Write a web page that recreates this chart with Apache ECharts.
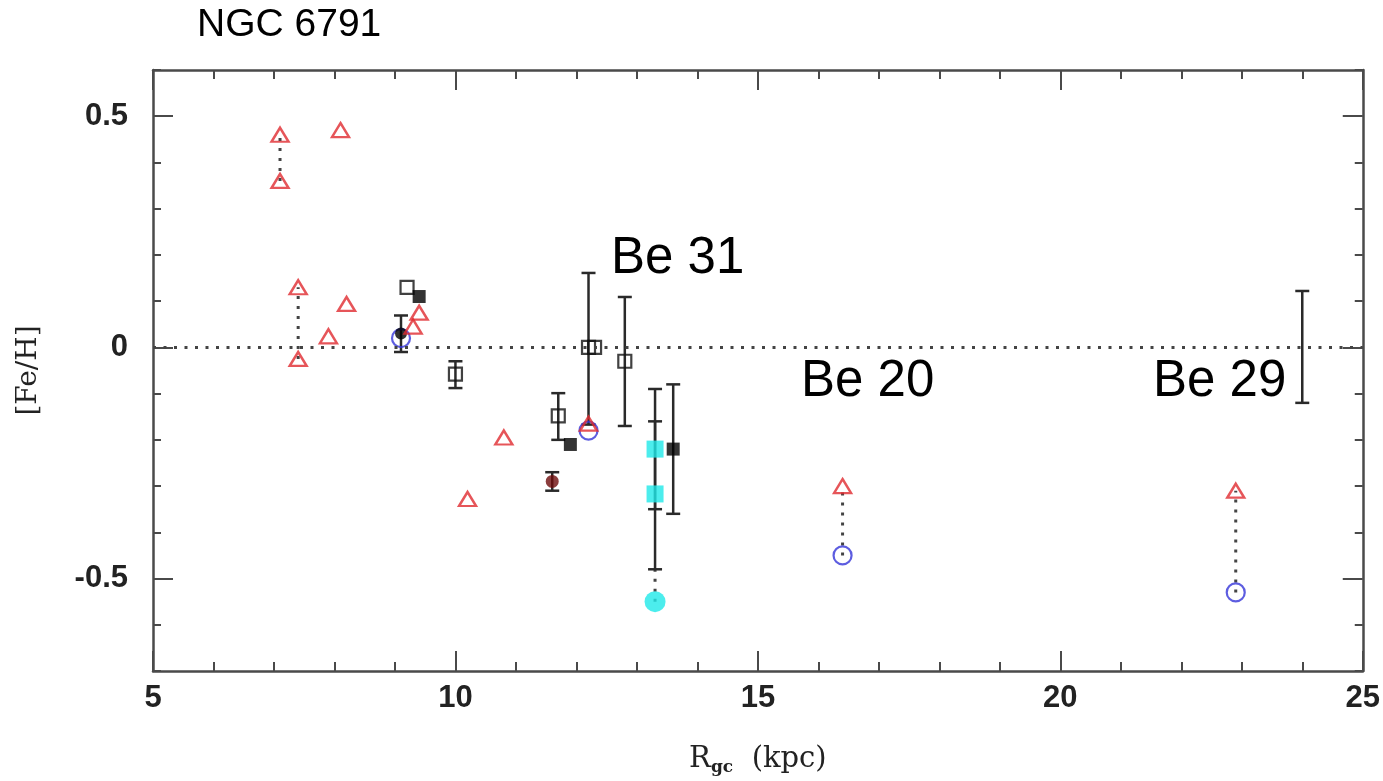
<!DOCTYPE html>
<html>
<head>
<meta charset="utf-8">
<title>NGC 6791 [Fe/H] vs Rgc</title>
<script src="https://cdn.jsdelivr.net/npm/echarts@6.0.0/dist/echarts.min.js"></script>
<style>
  html, body { margin: 0; padding: 0; background: #fff; }
  #chart { width: 1383px; height: 781px; }
</style>
</head>
<body>
<div id="chart"></div>
<script>
  // 数据：从图上读出来的 [Rgc, Fe/H]
  const triangleX = [7.1, 7.1, 8.1, 7.4, 7.4, 7.9, 8.2, 9.3, 9.4, 10.8, 10.2, 12.2, 16.4, 22.9];
  const triangleY = [0.46, 0.36, 0.47, 0.13, -0.025, 0.024, 0.094, 0.045, 0.075, -0.195, -0.328, -0.165, -0.30, -0.31];

  const circleX = [9.1, 12.2, 16.4, 22.9];
  const circleY = [0.02, -0.18, -0.45, -0.53];

  const openSquareX = [9.2, 10.0, 11.7, 12.2, 12.3, 12.8];
  const openSquareY = [0.13, -0.058, -0.148, 0.0, 0.0, -0.03];

  const filledSquareX = [9.4, 11.9, 13.6];
  const filledSquareY = [0.11, -0.21, -0.22];

  const cyanSquareX = [13.3, 13.3];
  const cyanSquareY = [-0.22, -0.317];
  const cyanCircleX = [13.3];
  const cyanCircleY = [-0.55];

  const blackDotX = [9.1];
  const blackDotY = [0.03];
  const darkRedX = [11.6];
  const darkRedY = [-0.29];

  // 误差棒 [x, low, high]
  const errX = [9.1, 10.0, 11.6, 11.7, 12.2, 12.8, 13.3, 13.3, 13.6, 24.0];
  const errLow = [-0.01, -0.088, -0.31, -0.20, -0.167, -0.17, -0.35, -0.48, -0.36, -0.12];
  const errHigh = [0.069, -0.03, -0.27, -0.099, 0.161, 0.109, -0.09, -0.16, -0.08, 0.122];

  // 虚线连接 [x, y1, y2]
  const linkX = [7.1, 7.4, 13.3, 16.4, 22.9];
  const linkLow = [0.36, -0.025, -0.55, -0.45, -0.53];
  const linkHigh = [0.46, 0.13, -0.48, -0.30, -0.31];

  // 刻度
  const xMin = 5, xMax = 25;
  const yMin = -0.7, yMax = 0.6;
  const yLabelValues = [-0.5, 0, 0.5];

  const zip = (xs, ys) => xs.map((x, i) => [x, ys[i]]);
  const zip3 = (xs, a, b) => xs.map((x, i) => [x, a[i], b[i]]);

  const axisColor = '#4a4a4a';
  const labelFont = 'Liberation Sans, Arial, sans-serif';

  function renderErr(params, api) {
    const x = api.value(0);
    const p1 = api.coord([x, api.value(1)]);
    const p2 = api.coord([x, api.value(2)]);
    const w = 7;
    const st = { stroke: '#2a2a2a', lineWidth: 2.5 };
    return {
      type: 'group',
      children: [
        { type: 'line', shape: { x1: p1[0], y1: p1[1], x2: p2[0], y2: p2[1] }, style: st },
        { type: 'line', shape: { x1: p1[0] - w, y1: p1[1], x2: p1[0] + w, y2: p1[1] }, style: st },
        { type: 'line', shape: { x1: p2[0] - w, y1: p2[1], x2: p2[0] + w, y2: p2[1] }, style: st }
      ]
    };
  }

  function renderLink(params, api) {
    const x = api.value(0);
    const p1 = api.coord([x, api.value(1)]);
    const p2 = api.coord([x, api.value(2)]);
    return {
      type: 'line',
      shape: { x1: p1[0], y1: p1[1], x2: p2[0], y2: p2[1] },
      style: { stroke: '#444', lineWidth: 3, lineDash: [3, 7] }
    };
  }

  function xAxisCfg(pos, showLabel) {
    return {
      type: 'value', position: pos, min: xMin, max: xMax, interval: 5,
      axisLine: { show: true, onZero: false, lineStyle: { color: axisColor, width: 2.5 } },
      axisTick: { inside: true, length: 20, lineStyle: { color: axisColor, width: 2 } },
      minorTick: { show: true, splitNumber: 5, length: 9, lineStyle: { color: axisColor, width: 2 } },
      axisLabel: {
        show: showLabel, margin: 12, fontSize: 31, color: '#222', fontWeight: 'bold',
        fontFamily: labelFont
      },
      splitLine: { show: false }
    };
  }

  function yMinorCfg(pos, showLabel) {
    return {
      type: 'value', position: pos, min: yMin, max: yMax, interval: 0.1, offset: 0,
      axisLine: { show: true, onZero: false, lineStyle: { color: axisColor, width: 2.5 } },
      axisTick: { inside: true, length: 8, lineStyle: { color: axisColor, width: 2 } },
      axisLabel: {
        show: showLabel, customValues: yLabelValues, margin: 25, fontSize: 31, color: '#222',
        fontWeight: 'bold', fontFamily: labelFont
      },
      splitLine: { show: false }
    };
  }

  function yMajorCfg(pos) {
    return {
      type: 'value', position: pos, min: yMin, max: yMax, offset: 0,
      axisLine: { show: false, onZero: false },
      axisTick: { inside: true, length: 20, customValues: yLabelValues, lineStyle: { color: axisColor, width: 2 } },
      axisLabel: { show: false },
      splitLine: { show: false }
    };
  }

  const bottomX = xAxisCfg('bottom', true);
  bottomX.name = '{r|R}{s|gc}  (kpc)';
  bottomX.nameLocation = 'middle';
  bottomX.nameGap = 72;
  bottomX.nameTextStyle = {
    fontFamily: 'DejaVu Serif, serif', fontSize: 29, color: '#222',
    rich: {
      r: { fontFamily: 'DejaVu Serif, serif', fontSize: 29, color: '#222' },
      s: { fontFamily: 'DejaVu Serif, serif', fontSize: 17, fontWeight: 'bold', color: '#222', padding: [16, 0, 0, 0] }
    }
  };

  const leftY = yMinorCfg('left', true);
  leftY.name = '[Fe/H]';
  leftY.nameLocation = 'middle';
  leftY.nameGap = 110;
  leftY.nameTextStyle = { fontFamily: 'DejaVu Serif, serif', fontSize: 28, color: '#222' };

  const option = {
    backgroundColor: '#ffffff',
    animation: false,
    grid: { left: 153, right: 17, top: 70, bottom: 109, containLabel: false },
    xAxis: [bottomX, xAxisCfg('top', false)],
    yAxis: [leftY, yMajorCfg('left'), yMinorCfg('right', false), yMajorCfg('right')],
    graphic: [
      { type: 'text', left: 197, top: 6, style: { text: 'NGC 6791', fontSize: 39, fontFamily: labelFont, fill: '#000' } },
      { type: 'text', left: 611, top: 233, style: { text: 'Be 31', fontSize: 51, fontFamily: labelFont, fill: '#000' } },
      { type: 'text', left: 801, top: 356, style: { text: 'Be 20', fontSize: 51, fontFamily: labelFont, fill: '#000' } },
      { type: 'text', left: 1153, top: 356, style: { text: 'Be 29', fontSize: 51, fontFamily: labelFont, fill: '#000' } }
    ],
    series: [
      {
        name: 'links', type: 'custom', xAxisIndex: 0, yAxisIndex: 0, z: 1,
        renderItem: renderLink, encode: { x: 0, y: [1, 2] },
        data: zip3(linkX, linkLow, linkHigh),
        markLine: {
          silent: true, symbol: 'none', label: { show: false },
          lineStyle: { color: '#444', width: 3, type: [3, 7.5] },
          data: [{ yAxis: 0 }]
        }
      },
      {
        name: 'errors', type: 'custom', xAxisIndex: 0, yAxisIndex: 0, z: 2,
        renderItem: renderErr, encode: { x: 0, y: [1, 2] },
        data: zip3(errX, errLow, errHigh)
      },
      {
        name: 'open squares', type: 'scatter', z: 3, symbol: 'rect', symbolSize: 13,
        itemStyle: { color: 'rgba(0,0,0,0)', borderColor: '#111', borderWidth: 2.2 },
        data: zip(openSquareX, openSquareY)
      },
      {
        name: 'filled squares', type: 'scatter', z: 3, symbol: 'rect', symbolSize: 13,
        itemStyle: { color: '#000' },
        data: zip(filledSquareX, filledSquareY)
      },
      {
        name: 'cyan squares', type: 'scatter', z: 3, symbol: 'rect', symbolSize: 17,
        itemStyle: { color: '#1fe8e8' },
        data: zip(cyanSquareX, cyanSquareY)
      },
      {
        name: 'cyan circle', type: 'scatter', z: 3, symbol: 'circle', symbolSize: 21,
        itemStyle: { color: '#1fe8e8' },
        data: zip(cyanCircleX, cyanCircleY)
      },
      {
        name: 'circles', type: 'scatter', z: 4, symbol: 'circle', symbolSize: 18,
        itemStyle: { color: 'rgba(0,0,0,0)', borderColor: '#3535d8', borderWidth: 2.2 },
        data: zip(circleX, circleY)
      },
      {
        name: 'black dot', type: 'scatter', z: 5, symbol: 'circle', symbolSize: 12,
        itemStyle: { color: '#000' },
        data: zip(blackDotX, blackDotY)
      },
      {
        name: 'dark red', type: 'scatter', z: 5, symbol: 'circle', symbolSize: 13,
        itemStyle: { color: '#6e0c0c' },
        data: zip(darkRedX, darkRedY)
      },
      {
        name: 'triangles', type: 'scatter', z: 6, symbol: 'triangle', symbolSize: [17, 14],
        itemStyle: { color: 'rgba(0,0,0,0)', borderColor: '#e02a2f', borderWidth: 2.4 },
        data: zip(triangleX, triangleY)
      }
    ]
  };

  const myChart = echarts.init(document.getElementById('chart'));
  myChart.setOption(option);
  window.addEventListener('resize', function () {
    myChart.resize();
  });
</script>
</body>
</html>
